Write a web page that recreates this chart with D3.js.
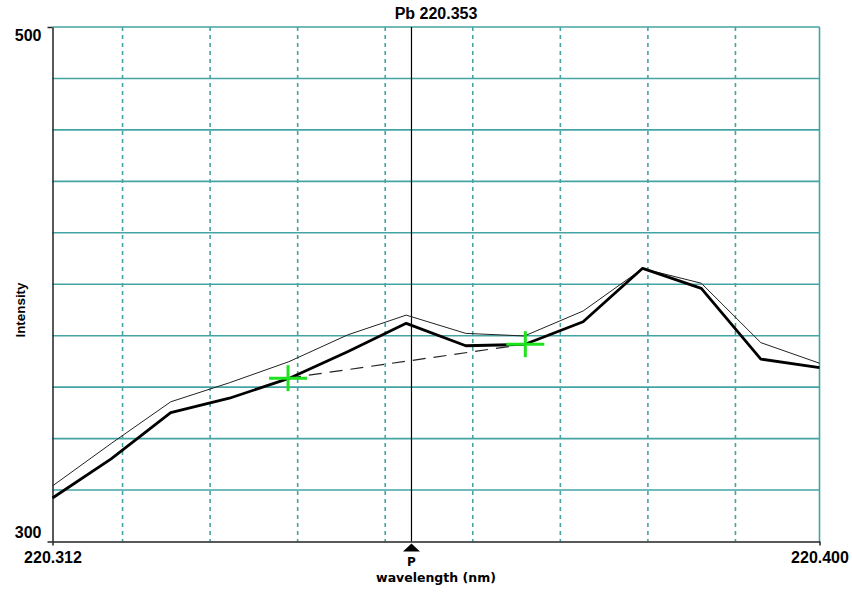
<!DOCTYPE html>
<html>
<head>
<meta charset="utf-8">
<script src="https://cdn.jsdelivr.net/npm/d3@7"></script>
<style>
  html, body { margin: 0; padding: 0; background: #ffffff; }
  svg { display: block; }
</style>
</head>
<body>
<div id="chart"></div>
<script>
// ---- data ----
const title = "Pb 220.353";
const peakWavelength = 220.353;
const xDomain = [220.3120, 220.3996];
const yDomain = [300, 500];
const xTickLabels = [220.3120, 220.3996];
const yTickLabels = [300, 500];
const xGridValues = [220.32, 220.33, 220.34, 220.35, 220.36, 220.37, 220.38, 220.39];
const yGridValues = [320, 340, 360, 380, 400, 420, 440, 460, 480, 500];

const wavelengths = [220.3120, 220.3187, 220.3255, 220.3322, 220.3390, 220.3457, 220.3524,
                     220.3592, 220.3659, 220.3726, 220.3794, 220.3861, 220.3929, 220.3996];
const spectrum   = [316.9, 332.1, 350.1, 355.7, 363.4, 373.8, 384.8,
                    376.1, 376.6, 385.4, 406.2, 398.4, 370.9, 367.6];
const reference  = [321.6, 338.1, 354.3, 361.7, 369.9, 380.3, 388.0,
                    380.9, 379.9, 389.6, 406.1, 400.4, 377.3, 369.3];
const bgWavelengths = [220.3389, 220.3660];
const bgIntensity   = [363.5, 376.7];

// ---- layout ----
const W = 852, H = 592;
const mLeft = 52.5, mRight = 819.5, mTop = 27, mBottom = 541.5;
const teal = "#44a4a4";
const green = "#1ee21e";

const svg = d3.select("#chart").append("svg").attr("width", W).attr("height", H);

const x = d3.scaleLinear().domain(xDomain).range([mLeft, mRight]);
const y = d3.scaleLinear().domain(yDomain).range([mBottom, mTop]);

// horizontal grid
svg.append("g").selectAll("line").data(yGridValues).join("line")
  .attr("x1", mLeft).attr("x2", mRight)
  .attr("y1", d => y(d)).attr("y2", d => y(d))
  .attr("stroke", teal).attr("stroke-width", 1.6);

// vertical dashed grid
svg.append("g").selectAll("line").data(xGridValues).join("line")
  .attr("x1", d => x(d)).attr("x2", d => x(d))
  .attr("y1", mTop).attr("y2", mBottom)
  .attr("stroke", teal).attr("stroke-width", 1.6)
  .attr("stroke-dasharray", "4,4");

// right border
svg.append("line")
  .attr("x1", x(xDomain[1])).attr("x2", x(xDomain[1]))
  .attr("y1", mTop).attr("y2", mBottom)
  .attr("stroke", teal).attr("stroke-width", 1.6);

// peak line
svg.append("line")
  .attr("x1", x(peakWavelength)).attr("x2", x(peakWavelength))
  .attr("y1", mTop).attr("y2", mBottom)
  .attr("stroke", "#000").attr("stroke-width", 1.2);

// axes
const fontNum = "'Liberation Sans', Arial, sans-serif";
const xAxis = svg.append("g").attr("transform", `translate(0,${mBottom})`)
  .call(d3.axisBottom(x).tickValues(xTickLabels).tickFormat(d3.format(".3f"))
        .tickSize(4).tickSizeOuter(0).tickPadding(6));
const yAxis = svg.append("g").attr("transform", `translate(${mLeft},0)`)
  .call(d3.axisLeft(y).tickValues(yTickLabels).tickFormat(d3.format("d"))
        .tickSize(5).tickSizeOuter(0).tickPadding(6));
[xAxis, yAxis].forEach(g => {
  g.select(".domain").attr("stroke", "#222").attr("stroke-width", 1.5);
  g.selectAll(".tick line").attr("stroke", "#222").attr("stroke-width", 1.5);
  g.selectAll("text").attr("font-family", fontNum).attr("font-weight", "bold")
    .attr("font-size", 16).attr("fill", "#000");
});
yAxis.selectAll(".tick text").attr("dy", d => d === 500 ? "0.82em" : "-0.22em");

// lines
const line = d3.line().x(d => x(d[0])).y(d => y(d[1]));
svg.append("path").datum(d3.zip(wavelengths, reference))
  .attr("d", line).attr("fill", "none").attr("stroke", "#222").attr("stroke-width", 1);
svg.append("path").datum(d3.zip(wavelengths, spectrum))
  .attr("d", line).attr("fill", "none").attr("stroke", "#000")
  .attr("stroke-width", 2.8).attr("stroke-linejoin", "round");

// background dashed line
svg.append("path").datum(d3.zip(bgWavelengths, bgIntensity))
  .attr("d", line).attr("fill", "none").attr("stroke", "#222")
  .attr("stroke-width", 1.2).attr("stroke-dasharray", "13,8");

// green crosses
const crosses = svg.append("g").selectAll("g").data(d3.zip(bgWavelengths, bgIntensity)).join("g")
  .attr("transform", d => `translate(${x(d[0])},${y(d[1])})`);
crosses.append("line").attr("x1", -19).attr("x2", 19).attr("y1", 0).attr("y2", 0)
  .attr("stroke", green).attr("stroke-width", 3);
crosses.append("line").attr("x1", 0).attr("x2", 0).attr("y1", -13).attr("y2", 13)
  .attr("stroke", green).attr("stroke-width", 3);

// title
svg.append("text").attr("x", (mLeft + mRight) / 2).attr("y", 19)
  .attr("text-anchor", "middle").attr("font-family", fontNum)
  .attr("font-weight", "bold").attr("font-size", 16).text(title);

// P marker
const px = x(peakWavelength);
svg.append("path")
  .attr("d", `M${px - 8.5},${mBottom + 10}L${px + 8.5},${mBottom + 10}L${px},${mBottom + 2}Z`)
  .attr("fill", "#000");
svg.append("text").attr("x", px).attr("y", 566).attr("text-anchor", "middle")
  .attr("font-family", "'DejaVu Sans', sans-serif").attr("font-weight", "bold")
  .attr("font-size", 12).text("P");

// axis titles
svg.append("text").attr("x", (mLeft + mRight) / 2).attr("y", 582).attr("text-anchor", "middle")
  .attr("font-family", "'DejaVu Sans', sans-serif").attr("font-weight", "bold")
  .attr("font-size", 12.5).text("wavelength (nm)");
svg.append("text").attr("transform", "translate(25,310) rotate(-90)")
  .attr("text-anchor", "middle").attr("font-family", fontNum)
  .attr("font-weight", "bold").attr("font-size", 13.4).text("Intensity");
</script>
</body>
</html>
